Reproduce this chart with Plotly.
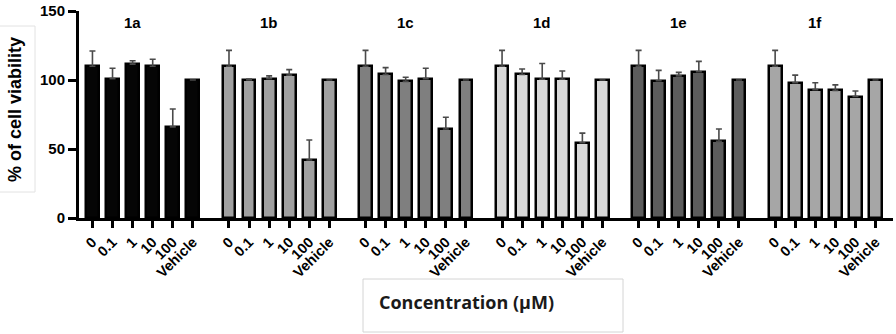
import plotly.graph_objects as go

# ---- data ----
concentrations = ["0", "0.1", "1", "10", "100", "Vehicle"]
compounds = ["1a", "1b", "1c", "1d", "1e", "1f"]

viab_1a = [110, 101, 111.5, 110, 66, 100]
err_1a = [11, 7.5, 2.5, 5, 13, 0]
viab_1b = [110, 100, 101, 103.5, 42, 100]
err_1b = [11.5, 0.7, 2, 4, 14.5, 0]
viab_1c = [110, 104, 99, 101, 64.5, 100]
err_1c = [11.5, 5, 3, 7.5, 8.5, 0]
viab_1d = [110, 104, 100.5, 100.5, 54.5, 100]
err_1d = [11.5, 4, 11.5, 6, 7, 0]
viab_1e = [110, 99.5, 103, 106, 55.5, 100]
err_1e = [11.5, 7.5, 2.5, 7.5, 9, 0]
viab_1f = [110, 98, 93, 92.5, 88, 100]
err_1f = [11.5, 5.5, 5, 4, 4, 0]

y_ticks = [0, 50, 100, 150]

viabilities = [viab_1a, viab_1b, viab_1c, viab_1d, viab_1e, viab_1f]
errors = [err_1a, err_1b, err_1c, err_1d, err_1e, err_1f]
colors = ["#050505", "#a0a0a0", "#7f7f7f", "#d8d8d8", "#5c5c5c", "#a6a6a6"]

GROUP_STEP = 6.8  # slot units between groups

W0, W1 = 79, 893
T0, B0 = 11, 218


def px(xp):
    return (xp - W0) / (W1 - W0)


def py(yp):
    return (B0 - yp) / (B0 - T0)


fig = go.Figure()
tickvals, ticktext = [], []
for g, (name, vals, errs, col) in enumerate(zip(compounds, viabilities, errors, colors)):
    xs = [g * GROUP_STEP + i for i in range(len(concentrations))]
    tickvals += xs
    ticktext += concentrations
    fig.add_trace(go.Bar(
        x=xs, y=vals, name=name, width=0.64,
        marker=dict(color=col, line=dict(color="black", width=2.5)),
        error_y=dict(type="data", symmetric=False, array=errs,
                     arrayminus=[0] * len(errs), color="#4a4a4a",
                     thickness=1.6, width=3),
        showlegend=False,
    ))
    fig.add_annotation(x=g * GROUP_STEP + 2.0, y=py(22), xref="x", yref="paper",
                       text=name, showarrow=False, yanchor="middle",
                       font=dict(family="Liberation Sans", size=15, color="black", weight="bold"))

# y-axis title (as annotation) with faint box
fig.add_annotation(x=px(15), y=py(110), xref="paper", yref="paper",
                   text="% of cell viability", textangle=-90, showarrow=False,
                   xanchor="center", yanchor="middle",
                   font=dict(family="Liberation Sans", size=18, color="black", weight="bold"))
fig.add_shape(type="rect", xref="paper", yref="paper",
              x0=px(-5), x1=px(35), y0=py(192), y1=py(26),
              line=dict(color="#e2e2e2", width=1))

# x-axis title in a box
fig.add_shape(type="rect", xref="paper", yref="paper",
              x0=px(363), x1=px(623), y0=py(332), y1=py(279),
              line=dict(color="#d4d4d4", width=1))
fig.add_annotation(x=px(377), y=py(302), xref="paper", yref="paper",
                   text="Concentration (\u03bcM)", showarrow=False,
                   xanchor="left", yanchor="middle",
                   font=dict(family="Open Sans", size=18, color="#1a1a1a", weight="bold"))

fig.update_layout(
    width=896, height=334,
    margin=dict(l=W0, r=896 - W1, t=T0, b=334 - B0, autoexpand=False),
    paper_bgcolor="white", plot_bgcolor="white",
    bargap=0,
    xaxis=dict(range=[-0.67, 39.87], tickvals=tickvals, ticktext=ticktext,
               tickangle=-45, ticks="outside", ticklen=7, tickwidth=3, tickcolor="black",
               showline=True, linecolor="black", linewidth=3, showgrid=False, zeroline=False,
               automargin=False,
               tickfont=dict(family="Liberation Sans", size=14.5, color="black", weight="bold")),
    yaxis=dict(range=[0, 150], tickvals=y_ticks, ticks="outside", ticklen=8, tickwidth=3,
               tickcolor="black", showline=True, linecolor="black", linewidth=3,
               showgrid=False, zeroline=False, automargin=False,
               tickfont=dict(family="Liberation Sans", size=15, color="black", weight="bold")),
)

fig.write_html("out.html", config={"displayModeBar": False},
               post_script="document.body.style.margin='0px';document.body.style.overflow='hidden';")
